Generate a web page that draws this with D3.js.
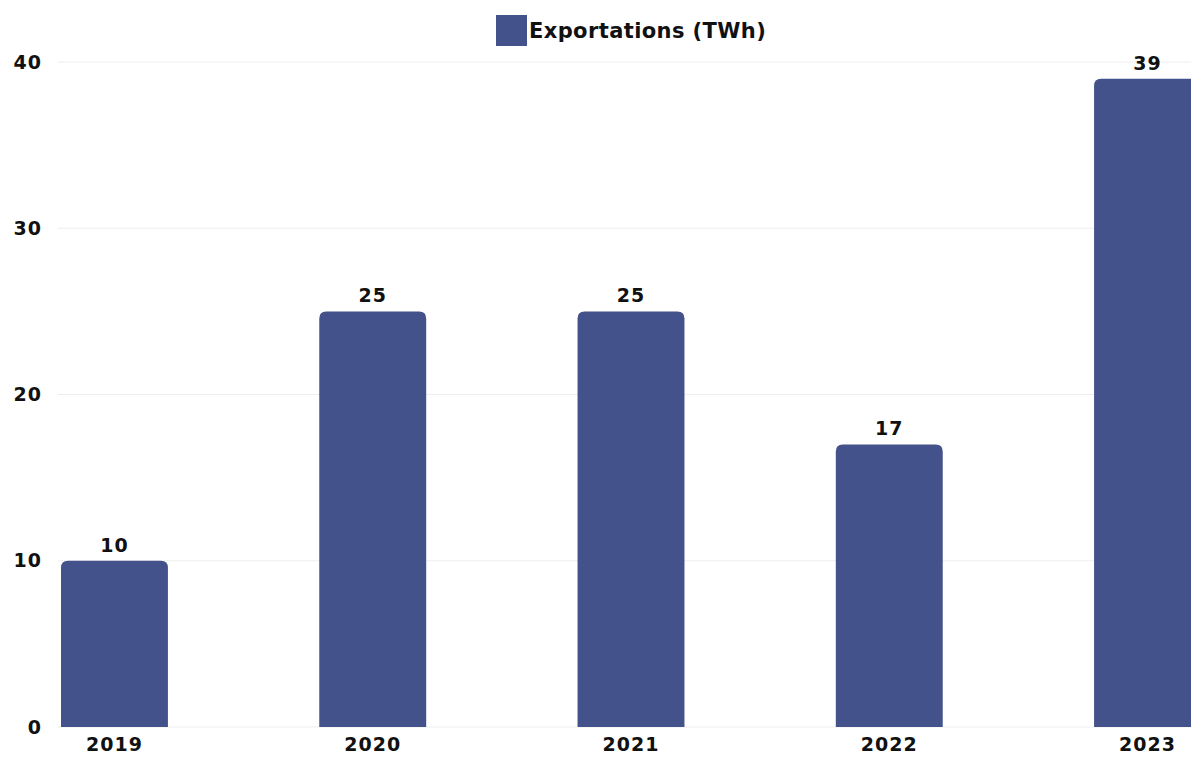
<!DOCTYPE html>
<html>
<head>
<meta charset="utf-8">
<script src="https://cdn.jsdelivr.net/npm/d3@7"></script>
<style>
  html, body { margin: 0; padding: 0; background: #ffffff; overflow: hidden; }
  svg { display: block; font-family: "DejaVu Sans", sans-serif; }
</style>
</head>
<body>
<svg id="chart" width="1191" height="760"></svg>
<script>
// Yearly electricity exports
const years = ["2019", "2020", "2021", "2022", "2023"];
const exportsTWh = [10, 25, 25, 17, 39];
const yTicks = [0, 10, 20, 30, 40];
const seriesName = "Exportations (TWh)";

const barColor = "#43528a";
const labelFont = "'DejaVu Sans', sans-serif";
const width = 1191, height = 760;
const plotLeft = 61, plotRight = 1201, plotTop = 62, plotBottom = 727;

const svg = d3.select("#chart");

const x = d3.scaleBand()
  .domain(years)
  .range([plotLeft, plotRight])
  .paddingInner(0.586)
  .paddingOuter(0);

const y = d3.scaleLinear()
  .domain([0, 40])
  .range([plotBottom, plotTop]);

function styleLabel(sel) {
  sel.attr("font-family", labelFont)
    .attr("font-size", 19)
    .attr("font-weight", 700)
    .attr("letter-spacing", 1)
    .attr("fill", "#111111");
}

// Gridlines
svg.append("g")
  .selectAll("line")
  .data(yTicks)
  .join("line")
  .attr("x1", 58)
  .attr("x2", width)
  .attr("y1", d => y(d))
  .attr("y2", d => y(d))
  .attr("stroke", "#eeeeee")
  .attr("stroke-width", 1);

// Y axis labels
const yAxis = svg.append("g")
  .attr("transform", `translate(${42},0)`)
  .call(d3.axisLeft(y).tickValues(yTicks).tickSize(0).tickPadding(0));
yAxis.select(".domain").remove();
yAxis.selectAll("text").call(styleLabel);

// X axis labels
const xAxis = svg.append("g")
  .attr("transform", `translate(0,${plotBottom})`)
  .call(d3.axisBottom(x).tickSize(0).tickPadding(11));
xAxis.select(".domain").remove();
xAxis.selectAll("text").call(styleLabel);

// Bars with rounded top corners
const r = 7;
function barPath(d, i) {
  const x0 = x(years[i]), w = x.bandwidth();
  const y0 = y(d), y1 = y(0);
  return `M${x0},${y1} L${x0},${y0 + r} Q${x0},${y0} ${x0 + r},${y0}` +
         ` L${x0 + w - r},${y0} Q${x0 + w},${y0} ${x0 + w},${y0 + r}` +
         ` L${x0 + w},${y1} Z`;
}
svg.append("g")
  .selectAll("path")
  .data(exportsTWh)
  .join("path")
  .attr("d", barPath)
  .attr("fill", barColor);

// Value labels
svg.append("g")
  .selectAll("text")
  .data(exportsTWh)
  .join("text")
  .attr("x", (d, i) => x(years[i]) + x.bandwidth() / 2)
  .attr("y", d => y(d) - 9)
  .attr("text-anchor", "middle")
  .call(styleLabel)
  .text(d => d);

// Legend
const legend = svg.append("g").attr("transform", "translate(496,15)");
legend.append("rect")
  .attr("width", 31)
  .attr("height", 31)
  .attr("fill", barColor);
legend.append("text")
  .attr("x", 33)
  .attr("y", 23)
  .attr("font-family", labelFont)
  .attr("font-size", 21)
  .attr("font-weight", 700)
  .attr("letter-spacing", 0.4)
  .attr("fill", "#111111")
  .text(seriesName);
</script>
</body>
</html>
